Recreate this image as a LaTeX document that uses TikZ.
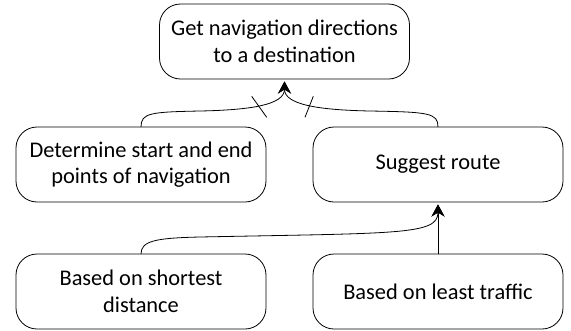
\documentclass[tikz,border=0pt]{standalone}
\usepackage{fontspec}
\setmainfont{Carlito}
\usetikzlibrary{arrows.meta,calc}
\begin{document}
\begin{tikzpicture}[x=1pt,y=-1pt,
  box/.style={draw, line width=0.8pt, rounded corners=21pt, minimum width=250pt,
    minimum height=75pt, align=center, inner sep=0pt, outer sep=0pt,
    font=\fontsize{22.4}{26.5}\selectfont},
  conn/.style={line width=0.8pt, -{Stealth[length=12pt,width=13pt,inset=4pt]}, shorten >=2.5pt},
  tickmark/.style={line width=0.8pt}]
\useasboundingbox (0,0) rectangle (571,330);
\node[box] (top) at (284.5,41.5) {Get navigation directions\\to a destination};
\node[box] (lm) at (141,164.5) {Determine start and end\\points of navigation};
\node[box] (rm) at (438,164.5) {Suggest route};
\node[box] (bl) at (141,291.5) {Based on shortest\\distance};
\node[box] (br) at (438,291.5) {Based on least traffic};
\coordinate (lw) at (200,111);
\coordinate (rw) at (370,111);
\coordinate (bw) at (200,237);
\draw[conn] (lm.north) .. controls +(0,-14) and +(-50,1) .. (lw)
  .. controls +(50,-1) and +(0,26) .. (top.south);
\draw[conn] (rm.north) .. controls +(0,-14) and +(59,1) .. (rw)
  .. controls +(-50,-1) and +(0,26) .. (top.south);
\draw[conn] (bl.north) .. controls +(0,-13) and +(-45,1) .. (bw)
  .. controls +(200,-4) and +(0,33) .. (rm.south);
\draw[conn] (br.north) -- (rm.south);
\draw[tickmark] ($(top.south)+(-32.8,17.3)$) -- ($(top.south)+(-17.8,38.3)$);
\draw[tickmark] ($(top.south)+(28.8,17.3)$) -- ($(top.south)+(20.5,38.3)$);
\end{tikzpicture}
\end{document}
